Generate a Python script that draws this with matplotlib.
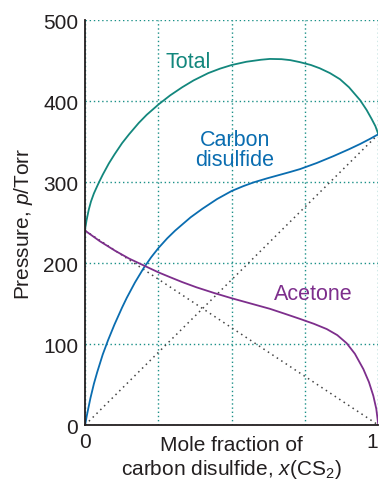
import matplotlib.pyplot as plt

plt.rcParams['font.family'] = ['Liberation Sans', 'DejaVu Sans']
plt.rcParams['mathtext.fontset'] = 'custom'
plt.rcParams['mathtext.rm'] = 'Liberation Sans'
plt.rcParams['mathtext.it'] = 'Liberation Sans:italic'

# values
x_total = [0, 0.005, 0.0125, 0.02, 0.03, 0.04, 0.047, 0.06, 0.081, 0.1, 0.126, 0.15,
           0.183, 0.21, 0.251, 0.29, 0.331, 0.37, 0.42, 0.46, 0.5, 0.55, 0.6, 0.63,
           0.67, 0.7, 0.733, 0.77, 0.8, 0.835, 0.869, 0.9, 0.938, 0.96, 0.977, 0.99, 1.0]
p_total = [242, 253, 266, 276, 286, 294, 299.5, 309, 323, 334, 348, 359,
           373, 383, 396, 407, 417, 425.5, 434.5, 440, 444.5, 448.5, 451, 452,
           451.7, 450.5, 448, 444.5, 440.5, 434.5, 427, 417, 401, 389, 378, 369, 359]

x_cs2 = [0, 0.006, 0.018, 0.03, 0.041, 0.06, 0.078, 0.1, 0.126, 0.142, 0.17, 0.2,
         0.225, 0.25, 0.28, 0.307, 0.331, 0.36, 0.4, 0.45, 0.5, 0.54, 0.574, 0.62,
         0.65, 0.7, 0.733, 0.79, 0.847, 0.9, 0.938, 0.97, 1.0]
p_cs2 = [0, 12, 33, 51, 65, 87, 104.5, 124, 145, 157, 176, 194,
         207, 218.5, 230.5, 240, 247.5, 256.5, 267, 279, 289, 295, 299.5, 304.5,
         307.5, 312.5, 316, 323.5, 332, 340.5, 347, 353, 359]

x_acetone = [0, 0.05, 0.103, 0.15, 0.2, 0.25, 0.29, 0.331, 0.38, 0.44, 0.5, 0.56,
             0.63, 0.68, 0.733, 0.78, 0.824, 0.86, 0.892, 0.92, 0.949, 0.968,
             0.983, 0.993, 1.0]
p_acetone = [240, 227, 215, 205.5, 197, 188.5, 182.5, 176.5, 170, 163, 156.5, 150.5,
             143.5, 137.5, 131, 125, 118.5, 111, 101, 88, 69, 53,
             36, 20, 0]

# ideal (Raoult's law) lines
x_ideal = [0, 1]
p_ideal_cs2 = [0, 359]
p_ideal_acetone = [240, 0]

teal = '#13877d'
blue = '#0a6db0'
purple = '#7d2e8c'
ink = '#231f20'

fig = plt.figure(figsize=(3.8, 4.85), dpi=100)
ax = fig.add_axes([0.224, 0.1216, 0.7716, 0.835])

ax.plot(x_ideal, p_ideal_cs2, color='#444444', lw=1.1, ls=(0, (1, 2.5)))
ax.plot(x_ideal, p_ideal_acetone, color='#444444', lw=1.1, ls=(0, (1, 2.5)))
ax.plot(x_total, p_total, color=teal, lw=1.3)
ax.plot(x_cs2, p_cs2, color=blue, lw=1.3)
ax.plot(x_acetone, p_acetone, color=purple, lw=1.3)

ax.text(0.35, 449, 'Total', color=teal, fontsize=15.5, ha='center', va='center')
ax.text(0.51, 340, 'Carbon\ndisulfide', color=blue, fontsize=15.5, ha='center', va='center',
        linespacing=0.95)
ax.text(0.777, 162, 'Acetone', color=purple, fontsize=15.5, ha='center', va='center')

ax.set_xlim(0, 1)
ax.set_ylim(0, 500)
ax.set_xticks([0, 0.25, 0.5, 0.75, 1])
ax.set_xticklabels(['0', '', '', '', '1'])
ax.get_xticklabels()[-1].set_horizontalalignment('right')
ax.set_yticks([0, 100, 200, 300, 400, 500])
ax.tick_params(length=0, labelsize=15, colors=ink, pad=5)
ax.grid(True, color='#1b9088', lw=1.0, ls=(0, (1, 2)))

for side in ['top', 'right']:
    ax.spines[side].set_visible(False)
for side in ['left', 'bottom']:
    ax.spines[side].set_color(ink)
    ax.spines[side].set_linewidth(1.3)

ax.text(0.5, -0.025, 'Mole fraction of\ncarbon disulfide, $x$(CS$_2$)', transform=ax.transAxes,
        ha='center', va='top', fontsize=15, color=ink, linespacing=1.15)
ax.set_ylabel('Pressure, $p$/Torr', fontsize=15, color=ink, labelpad=6)

fig.savefig('out.png', dpi=100)
